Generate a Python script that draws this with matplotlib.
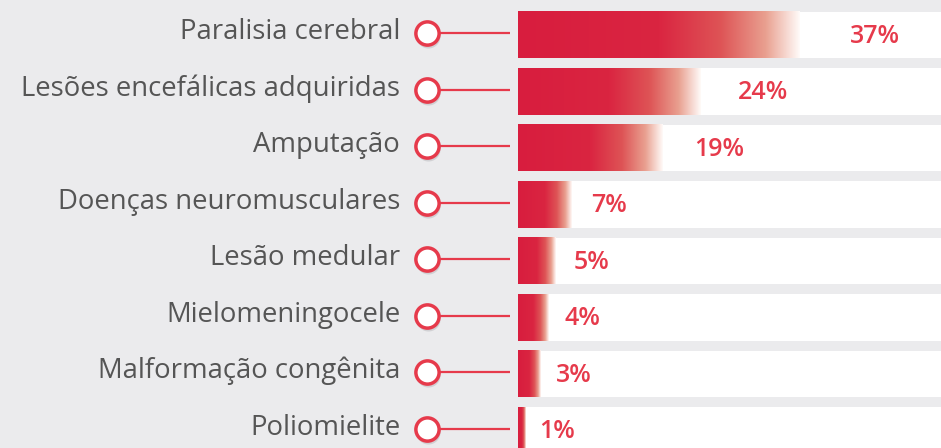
import numpy as np
import matplotlib.pyplot as plt
from matplotlib.colors import LinearSegmentedColormap

categories = ['Paralisia cerebral', 'Lesões encefálicas adquiridas', 'Amputação',
              'Doenças neuromusculares', 'Lesão medular', 'Mielomeningocele',
              'Malformação congênita', 'Poliomielite']
values = [37, 24, 19, 7, 5, 4, 3, 1]

BG = '#ebebed'
RED = '#e63a4b'
TEXT = '#555555'

fade = LinearSegmentedColormap.from_list('fade', [
    (0.0, '#d81d3e'), (0.5, '#da2541'), (0.72, '#de5456'),
    (0.88, '#e9a090'), (1.0, '#fffaf8')])

fig = plt.figure(figsize=(9.41, 4.48), dpi=100, facecolor=BG)
ax = fig.add_axes([0, 0, 1, 1])
ax.set_facecolor(BG)

px = 7.6  # pixels per percent
ax.axis('off')

rows = np.arange(len(categories))
h = 0.815
grad = np.linspace(0, 1, 256).reshape(1, -1)

# white track behind each bar
ax.barh(rows, 100, height=h, left=0, color='white', zorder=1)

for y, v, name in zip(rows, values, categories):
    ax.imshow(grad, cmap=fade, aspect='auto', interpolation='bilinear',
              extent=[0, v, y + h / 2, y - h / 2], zorder=2)
    ax.text(v * 1.137 + 1.6, y + 0.02, f'{v}%', color=RED, fontsize=18,
            fontweight='semibold', family='Open Sans', va='center', ha='left', zorder=3)
    ax.text(-15.5, y - 0.05, name, color=TEXT, fontsize=19.8, family='Open Sans',
            va='center', ha='right')
    # connector
    ax.plot([-12, -1.05], [y - 0.03, y - 0.03], color=RED, lw=1.6, zorder=3,
            solid_capstyle='butt')

# circle markers with a soft shadow
ax.scatter(np.full(len(rows), -11.8), rows + 0.02, s=300, color='#b8b8bc',
           alpha=0.5, linewidths=0, zorder=3)
ax.scatter(np.full(len(rows), -12), rows - 0.03, s=280, color='white',
           edgecolors=RED, linewidths=2.5, zorder=4)

ax.set_ylim((448 - 35) / 56.5, -35 / 56.5)
ax.set_xlim(-518 / px, (941 - 518) / px)

fig.savefig('out.png', dpi=100, facecolor=BG)
